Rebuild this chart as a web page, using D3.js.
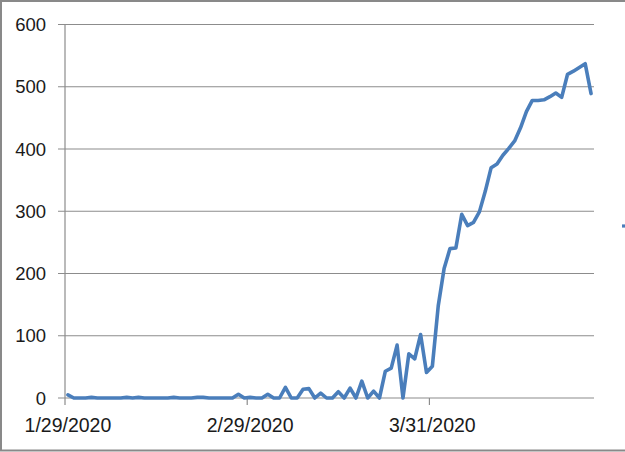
<!DOCTYPE html>
<html>
<head>
<meta charset="utf-8">
<script src="https://cdn.jsdelivr.net/npm/d3@7"></script>
<style>
  body { margin: 0; background: #fff; }
  svg { display: block; }
  text { font-family: "Liberation Sans", Arial, sans-serif; fill: #1a1a1a; }
</style>
</head>
<body>
<div class="chart"></div>
<script>
// daily values, 1/29/2020 .. 4/27/2020
var startDate = new Date(2020, 0, 29);
var values = [
    5, 0, 0, 0, 1, 0, 0, 0, 0, 0,
    1, 0, 1, 0, 0, 0, 0, 0, 1, 0,
    0, 0, 1, 1, 0, 0, 0, 0, 0, 6,
    0, 1, 0, 0, 6, 0, 0, 17, 0, 0,
    14, 15, 0, 8, 0, 0, 10, 0, 16, 0,
    27, 0, 11, 0, 43, 48, 85, 0, 71, 63,
    102, 41, 51, 148, 208, 240, 241, 295, 277, 282,
    299, 332, 370, 376, 390, 401, 413, 434, 460, 478,
    478, 479, 484, 490, 483, 520, 525, 531, 537, 489
];
var yTicks = [0, 100, 200, 300, 400, 500, 600];
var tickEvery = 31;

var svgWidth = 625;
var svgHeight = 452;

var margin = { top: 24.5, right: 31, bottom: 54, left: 65 };
var width = svgWidth - margin.left - margin.right;
var height = svgHeight - margin.top - margin.bottom;

var fmt = d3.timeFormat("%-m/%-d/%Y");
var dates = values.map(function (v, i) { return d3.timeDay.offset(startDate, i); });
var data = values.map(function (v, i) { return { date: dates[i], label: fmt(dates[i]), value: v }; });

var svg = d3.select(".chart")
    .append("svg")
    .attr("width", svgWidth)
    .attr("height", svgHeight);

// outer frame (right edge cropped off)
svg.append("rect")
    .attr("x", 1)
    .attr("y", 1)
    .attr("width", svgWidth + 10)
    .attr("height", svgHeight - 2.5)
    .attr("fill", "none")
    .attr("stroke", "#898989")
    .attr("stroke-width", 2);

var chart = svg.append("g")
    .attr("transform", `translate(${margin.left},${margin.top})`);

var xScale = d3.scaleBand()
    .domain(data.map(function (d) { return d.label; }))
    .range([0, width])
    .padding(0);

var yScale = d3.scaleLinear()
    .domain([0, 600])
    .range([height, 0]);

// gridlines
chart.append("g")
    .selectAll("line")
    .data(yTicks)
    .enter()
    .append("line")
    .attr("x1", -7)
    .attr("x2", width)
    .attr("y1", function (d) { return yScale(d); })
    .attr("y2", function (d) { return yScale(d); })
    .attr("stroke", "#8c8c8c")
    .attr("stroke-width", 1.2);

// y axis line
chart.append("line")
    .attr("x1", 0).attr("x2", 0)
    .attr("y1", 0).attr("y2", height)
    .attr("stroke", "#8c8c8c")
    .attr("stroke-width", 1.2);

// y labels
chart.append("g")
    .selectAll("text")
    .data(yTicks)
    .enter()
    .append("text")
    .attr("x", -19)
    .attr("y", function (d) { return yScale(d); })
    .attr("dy", "0.36em")
    .attr("text-anchor", "end")
    .attr("font-size", "18.5px")
    .text(function (d) { return d; });

// x tick marks every 31 categories
var tickData = data.filter(function (d, i) { return i % tickEvery === 0; });

chart.append("g")
    .selectAll("line")
    .data(tickData)
    .enter()
    .append("line")
    .attr("x1", function (d) { return xScale(d.label); })
    .attr("x2", function (d) { return xScale(d.label); })
    .attr("y1", height)
    .attr("y2", height + 7)
    .attr("stroke", "#8c8c8c")
    .attr("stroke-width", 1.2);

chart.append("g")
    .selectAll("text")
    .data(tickData)
    .enter()
    .append("text")
    .attr("x", function (d) { return xScale(d.label) + xScale.bandwidth() / 2; })
    .attr("y", height + 34)
    .attr("text-anchor", "middle")
    .attr("font-size", "19.5px")
    .text(function (d) { return d.label; });

// series line
var line = d3.line()
    .x(function (d) { return xScale(d.label) + xScale.bandwidth() / 2; })
    .y(function (d) { return yScale(d.value); });

chart.append("path")
    .datum(data)
    .attr("d", line)
    .attr("fill", "none")
    .attr("stroke", "#4a7ebb")
    .attr("stroke-width", 3.6)
    .attr("stroke-linejoin", "round")
    .attr("stroke-linecap", "round");

// legend swatch, mostly cropped at the right edge
svg.append("line")
    .attr("x1", 622)
    .attr("x2", 650)
    .attr("y1", 226)
    .attr("y2", 226)
    .attr("stroke", "#4a7ebb")
    .attr("stroke-width", 3.2);
</script>
</body>
</html>
